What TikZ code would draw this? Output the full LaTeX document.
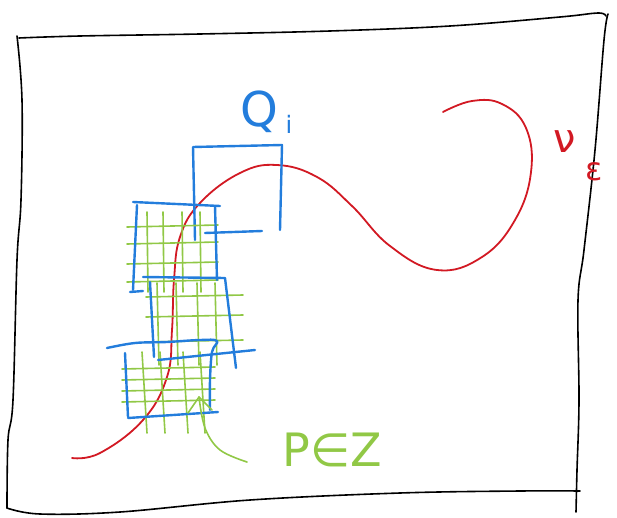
\documentclass[tikz,border=0pt]{standalone}
\usepackage{fontspec}
\newfontfamily\penfont{DejaVu Sans}
\definecolor{penred}{RGB}{210,25,35}
\definecolor{penblue}{RGB}{35,125,220}
\definecolor{pengreen}{RGB}{145,200,70}
\tikzset{
  frame/.style={black, line width=1.6pt, line cap=round, line join=round},
  redpen/.style={penred, line width=1.8pt, line cap=round},
  bluepen/.style={penblue, line width=2.4pt, line cap=round, line join=round},
  greenpen/.style={pengreen, line width=1.6pt, line cap=round, line join=round},
  lbl/.style={inner sep=0pt}
}
\begin{document}
\begin{tikzpicture}[x=1pt,y=-1pt]
\useasboundingbox (0,0) rectangle (617,518);
% frame
\draw[frame] plot[smooth, tension=0.6] coordinates {(19,38) (80,36) (200,34) (330,31) (450,26) (560,17) (598,13) (606,16)};
\draw[frame] plot[smooth, tension=0.6] coordinates {(17,36) (22,100) (21,200) (17,260) (13,400) (8,440) (7,508)};
\draw[frame] plot[smooth, tension=0.6] coordinates {(7,508) (40,514) (120,512) (250,500) (400,493) (520,491) (580,491)};
\draw[frame] plot[smooth, tension=0.6] coordinates {(608,14) (604,40) (595,150) (584,250) (578,300) (579,400) (577,470) (576,512)};
% red curve N_eps
\draw[redpen] plot[smooth, tension=0.7] coordinates {(72,458) (100,453) (143,420) (167,377) (172,330) (174,280) (180,237) (200,203) (240,173) (277,165) (317,177) (352,206) (390,246) (437,270) (482,257) (515,220) (531,172) (526,128) (502,104) (472,101) (443,112)};
\node[lbl, text=penred, font=\penfont\fontsize{40}{40}\selectfont] (neps) at (565,142) {ν};
\node[lbl, text=penred, font=\penfont\fontsize{32}{32}\selectfont] (epsl) at (594,172) {ε};
% Q_i box
\draw[bluepen] (195,240) -- (193,147) -- (282,145) -- (280,230);
\draw[bluepen] (205,233) -- (262,231);
\node[lbl, text=penblue, font=\penfont\fontsize{48}{48}\selectfont] (q) at (259,112) {Q};
\node[lbl, text=penblue, font=\penfont\fontsize{24}{24}\selectfont] (qi) at (289,124) {i};
% green grids
\foreach \x in {147,163,182,200} \draw[greenpen] (\x,212) -- (\x+1,292);
\foreach \y in {225,242,262,280} \draw[greenpen] (127,\y+2) -- (218,\y);
\foreach \x in {157,176,197,215} \draw[greenpen] (\x,283) -- (\x+2,365);
\foreach \y in {295,315,340} \draw[greenpen] (146,\y+2) -- (243,\y);
\foreach \x in {142,160,183,200} \draw[greenpen] (\x,352) -- (\x+5,433);
\foreach \y in {367,378,389,400} \draw[greenpen] (122,\y+2) -- (215,\y);
% blue boxes
\draw[bluepen] (133,202) -- (220,206);
\draw[bluepen] (137,205) -- (133,290);
\draw[bluepen] (215,206) -- (217,280);
\draw[bluepen] (130,292) -- (143,291);
\draw[bluepen] (143,277) -- (225,278) -- (236,368);
\draw[bluepen] (150,282) -- (154,357);
\draw[bluepen] (158,360) -- (255,350);
\draw[bluepen] plot[smooth, tension=0.6] coordinates {(107,348) (135,343) (167,342) (200,340) (217,341) (212,352) (210,380) (210,410)};
\draw[bluepen] (125,353) -- (128,417);
\draw[bluepen] (128,418) -- (218,412);
% green arrow
\coordinate (tip) at (199,397);
\draw[greenpen] plot[smooth, tension=0.6] coordinates {(247,462) (220,450) (205,428) (199,397)};
\draw[greenpen] (188,413) -- (tip) -- (212,410);
\node[lbl, text=pengreen, font=\penfont\fontsize{46}{46}\selectfont] (pez) at (332,450) {P∈Z};
\end{tikzpicture}
\end{document}
